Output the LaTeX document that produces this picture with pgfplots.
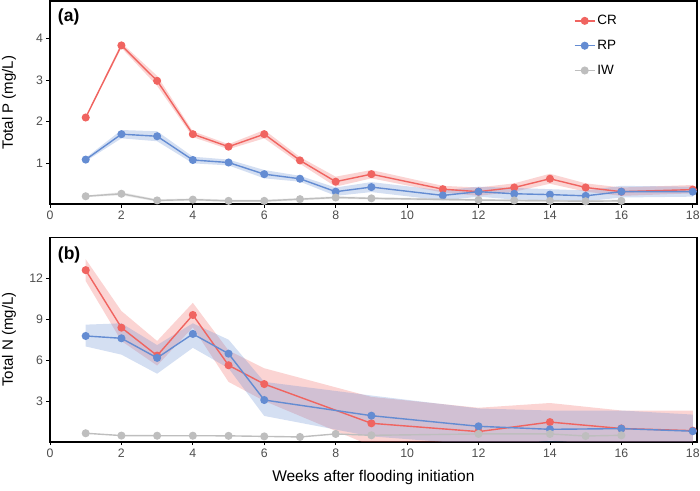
\documentclass[border=0pt]{standalone}
\usepackage{pgfplots}
\pgfplotsset{compat=1.18}
\usepackage{fontspec}
\setmainfont{Liberation Sans}
\definecolor{cr}{RGB}{240,100,96}
\definecolor{rp}{RGB}{100,140,210}
\definecolor{iw}{RGB}{190,190,190}
\definecolor{tickgrey}{RGB}{77,77,77}
\pgfplotsset{
  panel/.style={
    scale only axis, width=646.7pt,
    xmin=0, xmax=18.11,
    xtick={0,2,...,18},
    axis line style={line width=1.6pt, black},
    tick style={line width=0.8pt, black},
    tick align=outside, major tick length=3.5pt,
    tick pos=left,
    ticklabel style={font=\fontsize{12.3}{12.3}\selectfont, text=tickgrey},
    /pgf/number format/assume math mode=true,
    clip mode=individual,
    ylabel style={at={(axis description cs:-0.0634,0.5)}, anchor=center, font=\fontsize{15}{15}\selectfont},
  },
  ser/.style={#1, line width=1.4pt, mark=*, mark size=3.3pt, mark options={solid, fill=#1, draw=#1}},
  band/.style={draw=none, fill=#1, fill opacity=0.28, forget plot},
}
\begin{document}
\begin{tikzpicture}
\useasboundingbox (0,0) rectangle (700pt,-490pt);
% ---------------- (a) Total P
\begin{axis}[panel, at={(50pt,-1pt)}, anchor=north west, height=203pt,
  ymin=0.024, ymax=4.896, ytick={1,2,3,4},
  ylabel={Total P (mg/L)},
  legend style={draw=none, fill=none, at={(0.81,0.94)}, anchor=north west,
    font=\fontsize{13.5}{13.5}\selectfont, row sep=10pt, inner sep=0pt},
  legend cell align=left,
  legend image code/.code={\draw[mark repeat=2,mark phase=2] plot coordinates {(0pt,0pt) (10pt,0pt) (20pt,0pt)};},
]
\addplot[band=cr] coordinates {(1,2.12)(2,3.89)(3,3.10)(4,1.77)(5,1.46)(6,1.80)(7,1.15)(8,0.68)(9,0.84)(11,0.46)(12,0.42)(13,0.52)(14,0.75)(15,0.52)(16,0.42)(18,0.48)
  (18,0.28)(16,0.22)(15,0.32)(14,0.51)(13,0.32)(12,0.22)(11,0.30)(9,0.64)(8,0.44)(7,0.99)(6,1.60)(5,1.34)(4,1.63)(3,2.86)(2,3.77)(1,2.08)};
\addplot[band=rp] coordinates {(1,1.13)(2,1.80)(3,1.77)(4,1.16)(5,1.09)(6,0.84)(7,0.70)(8,0.42)(9,0.55)(11,0.35)(12,0.44)(13,0.41)(14,0.38)(15,0.35)(16,0.46)(18,0.44)
  (18,0.20)(16,0.18)(15,0.09)(14,0.12)(13,0.13)(12,0.20)(11,0.11)(9,0.31)(8,0.22)(7,0.56)(6,0.64)(5,0.95)(4,1.00)(3,1.53)(2,1.60)(1,1.05)};
\addplot[band=iw] coordinates {(1,0.23)(2,0.31)(3,0.14)(4,0.16)(5,0.13)(6,0.13)(7,0.17)(8,0.21)(9,0.19)(12,0.15)(13,0.14)(14,0.13)(15,0.12)(16,0.13)
  (16,0.07)(15,0.06)(14,0.07)(13,0.08)(12,0.09)(9,0.13)(8,0.15)(7,0.11)(6,0.07)(5,0.07)(4,0.10)(3,0.08)(2,0.23)(1,0.19)};
\addplot[ser=cr] coordinates {(1,2.10)(2,3.83)(3,2.98)(4,1.70)(5,1.40)(6,1.70)(7,1.07)(8,0.56)(9,0.74)(11,0.38)(12,0.32)(13,0.42)(14,0.63)(15,0.42)(16,0.32)(18,0.37)};
\addlegendentry{CR}
\addplot[ser=rp] coordinates {(1,1.09)(2,1.70)(3,1.65)(4,1.08)(5,1.02)(6,0.74)(7,0.63)(8,0.32)(9,0.43)(11,0.23)(12,0.32)(13,0.27)(14,0.25)(15,0.22)(16,0.32)(18,0.32)};
\addlegendentry{RP}
\addplot[ser=iw] coordinates {(1,0.21)(2,0.27)(3,0.11)(4,0.13)(5,0.10)(6,0.10)(7,0.14)(8,0.18)(9,0.16)(12,0.12)(13,0.11)(14,0.10)(15,0.09)(16,0.10)};
\addlegendentry{IW}
\node[anchor=west, font=\bfseries\fontsize{17.5}{17.5}\selectfont, inner sep=0pt] at (rel axis cs:0.012,0.921) {(a)};
\end{axis}
% ---------------- (b) Total N
\begin{axis}[panel, at={(50pt,-237.3pt)}, anchor=north west, height=204.4pt,
  ymin=0.01, ymax=15.01, ytick={3,6,9,12},
  ylabel={Total N (mg/L)},
  xlabel={Weeks after flooding initiation},
  xlabel style={at={(axis description cs:0.5,-0.174)}, anchor=center, font=\fontsize{15.5}{15.5}\selectfont},
]
\addplot[band=cr] coordinates {(1,13.4)(2,9.6)(3,7.4)(4,10.2)(5,6.7)(6,5.4)(9,3.3)(12,2.5)(14,2.85)(16,2.3)(18,2.3)
  (18,-0.4)(16,-0.3)(14,0.1)(12,-0.5)(9,-0.3)(6,3.0)(5,4.4)(4,8.4)(3,5.6)(2,7.4)(1,11.8)};
\addplot[band=rp] coordinates {(1,8.6)(2,8.7)(3,7.1)(4,8.7)(5,7.5)(6,4.4)(9,3.4)(12,2.45)(14,2.3)(16,2.3)(18,2.0)
  (18,-0.5)(16,-0.3)(14,-0.4)(12,-0.2)(9,0.4)(6,1.9)(5,5.4)(4,6.9)(3,5.0)(2,6.4)(1,7.0)};
\addplot[ser=cr] coordinates {(1,12.6)(2,8.38)(3,6.33)(4,9.31)(5,5.62)(6,4.24)(9,1.36)(12,0.75)(14,1.45)(16,0.98)(18,0.82)};
\addplot[ser=rp] coordinates {(1,7.77)(2,7.6)(3,6.16)(4,7.92)(5,6.47)(6,3.07)(9,1.92)(12,1.14)(14,0.92)(16,0.97)(18,0.78)};
\addplot[ser=iw] coordinates {(1,0.63)(2,0.46)(3,0.45)(4,0.45)(5,0.44)(6,0.40)(7,0.36)(8,0.58)(9,0.48)(12,0.58)(14,0.58)(15,0.43)(16,0.48)};
\node[anchor=west, font=\bfseries\fontsize{17.5}{17.5}\selectfont, inner sep=0pt] at (rel axis cs:0.012,0.912) {(b)};
\end{axis}
\end{tikzpicture}
\end{document}
